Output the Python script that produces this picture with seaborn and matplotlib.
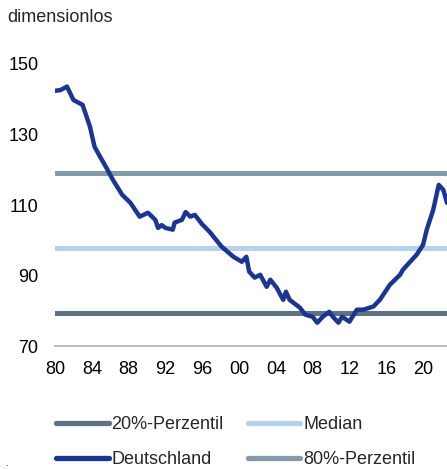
import matplotlib
matplotlib.use('Agg')
import matplotlib.pyplot as plt
import seaborn as sns
import pandas as pd

# Daten
jahre = [1980.0, 1980.6, 1981.3, 1982.0, 1983.0, 1983.8, 1984.3, 1984.9, 1985.6,
         1986.3, 1987.3, 1988.2, 1989.2, 1990.1, 1990.9, 1991.2, 1991.6, 1992.0,
         1992.8, 1993.0, 1993.8, 1994.2, 1994.7, 1995.2, 1996.0, 1996.8, 1998.1,
         1999.4, 2000.3, 2000.8, 2001.1, 2001.7, 2002.3, 2003.0, 2003.4, 2004.1,
         2004.8, 2005.1, 2005.5, 2006.6, 2007.2, 2008.0, 2008.5, 2009.1, 2009.8,
         2010.2, 2010.8, 2011.2, 2012.0, 2012.8, 2013.5, 2014.6, 2015.3, 2016.4,
         2017.5, 2017.8, 2018.6, 2019.3, 2020.0, 2020.4, 2021.1, 2021.7, 2022.2,
         2022.6]
deutschland = [142.4, 142.6, 143.6, 139.8, 138.4, 132.2, 126.5, 123.7, 120.5,
               117.1, 112.9, 110.6, 106.7, 107.8, 105.8, 103.5, 104.3, 103.5,
               103.0, 105.0, 105.8, 108.0, 106.7, 107.2, 104.5, 102.4, 98.2,
               95.3, 93.9, 95.3, 91.1, 89.4, 90.2, 86.8, 88.8, 86.5,
               83.1, 85.4, 83.1, 80.9, 78.9, 78.3, 76.6, 78.3, 79.7,
               78.3, 76.6, 78.3, 76.9, 80.3, 80.3, 81.2, 83.1, 87.4,
               90.2, 91.6, 93.9, 95.9, 98.7, 103.0, 108.6, 115.7, 114.3,
               110.6]
perzentil_20 = 79.5
median = 97.9
perzentil_80 = 119.1

x_ticks = [1980, 1984, 1988, 1992, 1996, 2000, 2004, 2008, 2012, 2016, 2020]
x_labels = ['80', '84', '88', '92', '96', '00', '04', '08', '12', '16', '20']
y_ticks = [70, 90, 110, 130, 150]

FARBE_DE = '#1b3594'
FARBE_P20 = '#5e7185'
FARBE_MED = '#b5d2ef'
FARBE_P80 = '#8599ab'

sns.set_theme(style='white')
plt.rcParams['font.family'] = ['Liberation Sans', 'DejaVu Sans']

fig = plt.figure(figsize=(4.47, 4.69), dpi=100)
ax = fig.add_axes([55 / 447, 1 - 346 / 469, 1 - 55 / 447, (346 - 64) / 469])

df = pd.DataFrame({'jahr': jahre, 'wert': deutschland})

ax.axhline(perzentil_20, color=FARBE_P20, lw=3.6, label='20%-Perzentil', zorder=2)
sns.lineplot(data=df, x='jahr', y='wert', ax=ax, color=FARBE_DE, lw=3.2,
             label='Deutschland', zorder=3)
ax.axhline(median, color=FARBE_MED, lw=3.6, label='Median', zorder=2)
ax.axhline(perzentil_80, color=FARBE_P80, lw=3.6, label='80%-Perzentil', zorder=2)

ax.set_xlim(1980, 2022.6)
ax.set_ylim(70, 150)
ax.set_xticks(x_ticks)
ax.set_xticklabels(x_labels)
ax.set_yticks(y_ticks)
ax.set_xlabel('')
ax.set_ylabel('')
ax.tick_params(axis='x', length=0, pad=11, labelsize=13, colors='black')
ax.tick_params(axis='y', length=0, pad=12, labelsize=13, colors='black')

for s in ['top', 'right', 'left']:
    ax.spines[s].set_visible(False)
ax.spines['bottom'].set_color('#b0b0b0')
ax.spines['bottom'].set_linewidth(1.2)

ax.get_legend().remove()
handles, labels = ax.get_legend_handles_labels()
leg = fig.legend(handles, labels, loc='upper left', ncol=2,
                 bbox_to_anchor=(40 / 447, 1 - 400 / 469), frameon=False,
                 fontsize=13, handlelength=2.9, handletextpad=0.15,
                 columnspacing=1.35, labelspacing=1.0)
for line in leg.get_lines():
    line.set_linewidth(3.8)
    line.set_solid_capstyle('round')

fig.text(7 / 447, 1 - 17 / 469, 'dimensionlos', fontsize=13, va='center', ha='left')
fig.text(6 / 447, 1 - 463 / 469, '.', fontsize=8, va='center', ha='left')

fig.savefig('out.png', dpi=100)
plt.close(fig)
